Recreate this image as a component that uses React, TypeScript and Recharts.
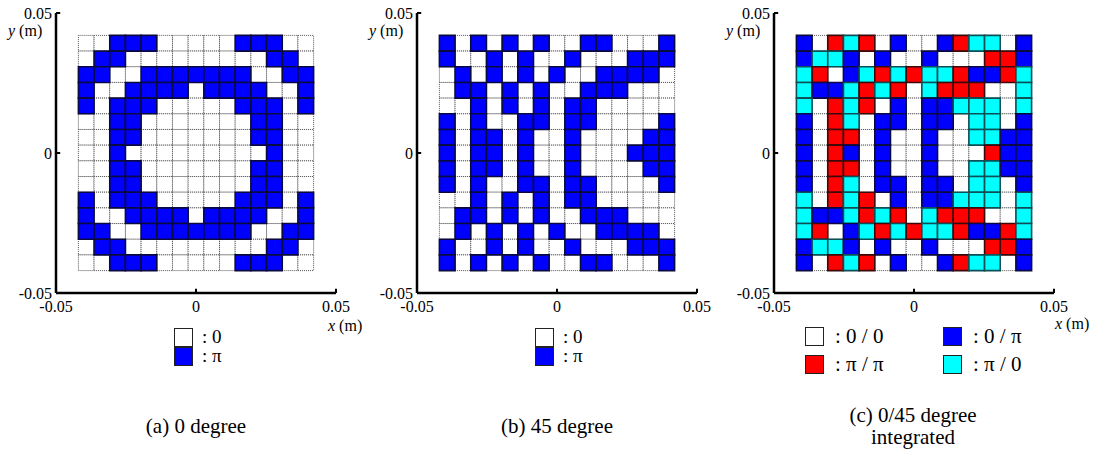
import { ScatterChart, XAxis, YAxis, ReferenceArea, ReferenceLine } from "recharts";

const FONT = "Liberation Serif, DejaVu Serif, Times New Roman, serif";

const xTicks = [-0.05, 0, 0.05];
const yTicks = [-0.05, 0, 0.05];

// grid: 15 x 15 elements, pitch 0.0056 m, centred on 0 (top row first)
const CELL = 0.0056;
const HALF = 0.042;

// (a) 0 degree: 0 -> phase 0, 1 -> phase pi
const grid0deg = [
  "001110000011100",
  "011000000000110",
  "110011111110011",
  "100111101111001",
  "101110000011101",
  "001100000001100",
  "001100000001100",
  "001000000000100",
  "001100000001100",
  "001100000001100",
  "101110000011101",
  "100111101111001",
  "110011111110011",
  "011000000000110",
  "001110000011100",
];

// (b) 45 degree
const grid45deg = [
  "101010100110001",
  "100101001000111",
  "010101010011110",
  "011010100111000",
  "001010101100000",
  "101001101100001",
  "101101001000011",
  "101101001000111",
  "101101001000011",
  "101001101100001",
  "001010101100000",
  "011010100111000",
  "010101010011110",
  "100101001000111",
  "101010100110001",
];

// (c) integrated: W = 0/0, R = pi/pi, B = 0/pi, C = pi/0
const gridIntegrated = [
  "BWRCRWBWWBRCCWB",
  "BCCBWBWWBWWWRRB",
  "CRWBCRCRCCRBBRC",
  "CBBCRCRWCRRRWWC",
  "CWRCRWBWBBCCCWC",
  "BWRCWBBWBBWCCWB",
  "BWRRWBWWBWWCCBB",
  "BWRBWBWWBWWWRBB",
  "BWRRWBWWBWWCCBB",
  "BWRCWBBWBBWCCWB",
  "CWRCRWBWBBCCCWC",
  "CBBCRCRWCRRRWWC",
  "CRWBCRCRCCRBBRC",
  "BCCBWBWWBWWWRRB",
  "BWRCRWBWWBRCCWB",
];

const FILL: Record<string, string> = {
  "0": "#ffffff",
  "1": "#0000ff",
  W: "#ffffff",
  B: "#0000ff",
  R: "#ff0000",
  C: "#00ffff",
};

const EDGE: Record<string, string> = {
  "1": "#0a0a40",
  B: "#0a0a40",
  R: "#3a0a0a",
  C: "#0d4f55",
};

const isBlank = (code: string) => code === "0" || code === "W";

function Panel({ grid, left }: { grid: string[]; left: number }) {
  const cells: { r: number; c: number; code: string }[] = [];
  grid.forEach((row, r) =>
    row.split("").forEach((code, c) => cells.push({ r, c, code }))
  );
  const ordered = [
    ...cells.filter((d) => isBlank(d.code)),
    ...cells.filter((d) => !isBlank(d.code)),
  ];

  return (
    <div style={{ position: "absolute", left, top: 0 }}>
      <ScatterChart
        width={360}
        height={330}
        margin={{ top: 13, right: 24, left: 16, bottom: 10 }}
      >
        <XAxis
          type="number"
          dataKey="x"
          domain={[-0.05, 0.05]}
          ticks={xTicks}
          height={27}
          axisLine={{ stroke: "#000", strokeWidth: 2.5 }}
          tickLine={false}
          tickSize={6}
          tickMargin={2}
          tick={{ fill: "#000", fontSize: 16, fontFamily: FONT }}
          allowDataOverflow
        />
        <YAxis
          type="number"
          dataKey="y"
          domain={[-0.05, 0.05]}
          ticks={yTicks}
          width={40}
          axisLine={{ stroke: "#000", strokeWidth: 2.5 }}
          tickLine={false}
          tickSize={2}
          tickMargin={2}
          tick={{ fill: "#000", fontSize: 16, fontFamily: FONT }}
          allowDataOverflow
        />

        {ordered.map((d) => (
          <ReferenceArea
            key={`${d.r}-${d.c}`}
            x1={-HALF + d.c * CELL}
            x2={-HALF + (d.c + 1) * CELL}
            y1={HALF - (d.r + 1) * CELL}
            y2={HALF - d.r * CELL}
            fill={FILL[d.code]}
            fillOpacity={1}
            stroke={isBlank(d.code) ? "#555" : EDGE[d.code]}
            strokeWidth={isBlank(d.code) ? 1 : 1.6}
            strokeDasharray={isBlank(d.code) ? "1 1" : undefined}
            ifOverflow="visible"
          />
        ))}

        {/* inward tick marks */}
        <ReferenceLine
          segment={[{ x: 0, y: -0.05 }, { x: 0, y: -0.0485 }]}
          stroke="#000"
          strokeWidth={2}
          ifOverflow="visible"
        />
        <ReferenceLine
          segment={[{ x: 0.05, y: -0.05 }, { x: 0.05, y: -0.0485 }]}
          stroke="#000"
          strokeWidth={2}
          ifOverflow="visible"
        />
        <ReferenceLine
          segment={[{ x: -0.05, y: 0 }, { x: -0.0485, y: 0 }]}
          stroke="#000"
          strokeWidth={2}
          ifOverflow="visible"
        />
        <ReferenceLine
          segment={[{ x: -0.05, y: 0.05 }, { x: -0.0485, y: 0.05 }]}
          stroke="#000"
          strokeWidth={2}
          ifOverflow="visible"
        />
      </ScatterChart>
    </div>
  );
}

function Swatch({ x, y, color }: { x: number; y: number; color: string }) {
  return (
    <div
      style={{
        position: "absolute",
        left: x,
        top: y,
        width: 17,
        height: 17,
        background: color,
        border: "1px solid #222",
      }}
    />
  );
}

function Text({
  x,
  y,
  size,
  children,
  center,
  lh,
}: {
  x: number;
  y: number;
  size: number;
  children: any;
  center?: boolean;
  lh?: number;
}) {
  return (
    <div
      style={{
        position: "absolute",
        left: center ? x - 150 : x,
        width: center ? 300 : undefined,
        textAlign: center ? "center" : "left",
        top: y,
        fontSize: size,
        lineHeight: `${lh ?? size + 1}px`,
        whiteSpace: "nowrap",
        color: "#000",
      }}
    >
      {children}
    </div>
  );
}

const AxisName = ({ v }: { v: string }) => (
  <>
    <i>{v}</i> (m)
  </>
);

export default function App() {
  return (
    <div
      style={{
        position: "absolute",
        left: 0,
        top: 0,
        width: 1098,
        height: 457,
        background: "#fff",
        fontFamily: FONT,
        overflow: "hidden",
      }}
    >
      <Panel grid={grid0deg} left={0} />
      <Panel grid={grid45deg} left={361} />
      <Panel grid={gridIntegrated} left={718} />

      <Text x={8} y={22} size={16}>
        <AxisName v="y" />
      </Text>
      <Text x={369} y={22} size={16}>
        <AxisName v="y" />
      </Text>
      <Text x={726} y={22} size={16}>
        <AxisName v="y" />
      </Text>
      <Text x={328} y={318} size={16} lh={16}>
        <AxisName v="x" />
      </Text>
      <Text x={1055} y={316} size={16} lh={16}>
        <AxisName v="x" />
      </Text>

      {/* legend (a) */}
      <Swatch x={174} y={328} color="#ffffff" />
      <Text x={202} y={328} size={19} lh={18}>: 0</Text>
      <Swatch x={174} y={347} color="#0000ff" />
      <Text x={202} y={347} size={19} lh={18}>: π</Text>

      {/* legend (b) */}
      <Swatch x={535} y={328} color="#ffffff" />
      <Text x={563} y={328} size={19} lh={18}>: 0</Text>
      <Swatch x={535} y={347} color="#0000ff" />
      <Text x={563} y={347} size={19} lh={18}>: π</Text>

      {/* legend (c) */}
      <Swatch x={805} y={327} color="#ffffff" />
      <Text x={835} y={325} size={21}>: 0 / 0</Text>
      <Swatch x={805} y={355} color="#ff0000" />
      <Text x={835} y={353} size={21}>: π / π</Text>
      <Swatch x={943} y={327} color="#0000ff" />
      <Text x={973} y={325} size={21}>: 0 / π</Text>
      <Swatch x={943} y={355} color="#00ffff" />
      <Text x={973} y={353} size={21}>: π / 0</Text>

      {/* captions */}
      <Text x={196} y={415} size={21} center>
        (a) 0 degree
      </Text>
      <Text x={557} y={415} size={21} center>
        (b) 45 degree
      </Text>
      <Text x={913} y={404} size={21} center>
        (c) 0/45 degree
        <br />
        integrated
      </Text>
    </div>
  );
}
